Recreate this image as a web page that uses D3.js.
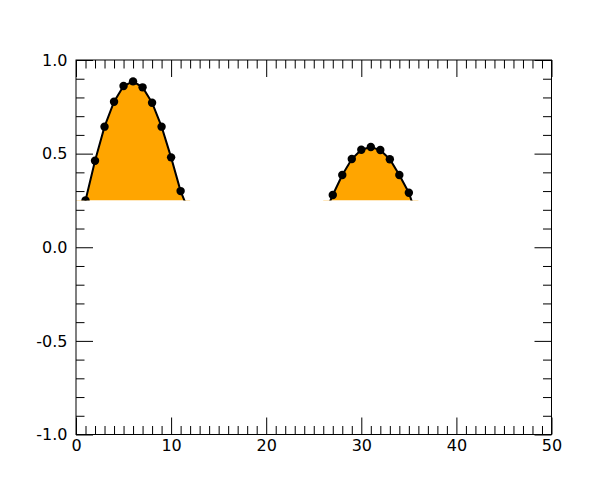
<!DOCTYPE html>
<html>
<head>
<meta charset="utf-8">
<script src="https://cdn.jsdelivr.net/npm/d3@7"></script>
<style>
  body { margin: 0; background: #fff; }
  text { font-family: "DejaVu Sans", sans-serif; }
</style>
</head>
<body>
<div id="chart-area"></div>
<script>
// data, two humps (values below 0.25 are clipped away)
let hump1X = [0, 1, 2, 3, 4, 5, 6, 7, 8, 9, 10, 11, 12];
let hump1Y = [0.0, 0.25, 0.462, 0.644, 0.777, 0.861, 0.886, 0.854, 0.772, 0.644, 0.48, 0.30, 0.175];
let hump2X = [26, 27, 28, 29, 30, 31, 32, 33, 34, 35, 36];
let hump2Y = [0.16, 0.279, 0.386, 0.471, 0.521, 0.535, 0.519, 0.47, 0.386, 0.291, 0.14];
let clipLevel = 0.25;

let xMajor = [0, 10, 20, 30, 40, 50];
let yMajor = [-1.0, -0.5, 0.0, 0.5, 1.0];

let margin = { left: 76, right: 48.5, top: 60, bottom: 65.5 };
let width = 600 - margin.left - margin.right;
let height = 500 - margin.top - margin.bottom;

let svg = d3.select('#chart-area').append('svg')
	.attr('width', 600)
	.attr('height', 500);

let g = svg.append('g')
	.attr('transform', 'translate(' + margin.left + ', ' + margin.top + ')');

let x = d3.scaleLinear().domain([0, 50]).range([0, width]);
let y = d3.scaleLinear().domain([-1, 1]).range([height, 0]);

// clip everything below the 0.25 level
svg.append('defs').append('clipPath')
	.attr('id', 'clip')
	.append('rect')
		.attr('x', 0)
		.attr('y', 0)
		.attr('width', width)
		.attr('height', y(clipLevel));

let segments = [
	hump1X.map((d, i) => ({ x: d, y: hump1Y[i] })),
	hump2X.map((d, i) => ({ x: d, y: hump2Y[i] }))
];

let plot = g.append('g').attr('clip-path', 'url(#clip)');

let area = d3.area()
	.x(d => x(d.x))
	.y0(y(clipLevel))
	.y1(d => y(d.y));

let line = d3.line()
	.x(d => x(d.x))
	.y(d => y(d.y));

segments.forEach(seg => {
	plot.append('path')
		.datum(seg)
		.attr('d', area)
		.attr('fill', 'orange');
	plot.append('path')
		.datum(seg)
		.attr('d', line)
		.attr('fill', 'none')
		.attr('stroke', 'black')
		.attr('stroke-width', 2);
	plot.selectAll(null)
		.data(seg)
		.enter()
		.append('circle')
			.attr('cx', d => x(d.x))
			.attr('cy', d => y(d.y))
			.attr('r', 4.2)
			.attr('fill', 'black');
});

// axes, ticks pointing inward on all four sides
let major = 17, minor = 8.5;
let xMinor = d3.range(0, 51, 1).filter(d => d % 10 !== 0);
let yMinor = d3.range(-10, 11, 1).map(d => d / 10).filter(d => Math.abs(d * 2 - Math.round(d * 2)) > 1e-6);

function styleAxis(sel) {
	sel.select('.domain').remove();
	sel.selectAll('line').attr('stroke', '#000').attr('stroke-width', 1);
	sel.selectAll('text')
		.attr('fill', '#000')
		.style('font-size', '16px')
		.style('font-family', '"DejaVu Sans", sans-serif');
}

g.append('g').attr('transform', 'translate(0,' + height + ')')
	.call(d3.axisBottom(x).tickValues(xMajor).tickSizeInner(-major).tickSizeOuter(0).tickPadding(5.5).tickFormat(d3.format('d')))
	.call(styleAxis);
g.append('g').attr('transform', 'translate(0,' + height + ')')
	.call(d3.axisBottom(x).tickValues(xMinor).tickSize(-minor).tickFormat(''))
	.call(styleAxis);
g.append('g')
	.call(d3.axisTop(x).tickValues(xMajor).tickSize(-major).tickFormat(''))
	.call(styleAxis);
g.append('g')
	.call(d3.axisTop(x).tickValues(xMinor).tickSize(-minor).tickFormat(''))
	.call(styleAxis);

g.append('g')
	.call(d3.axisLeft(y).tickValues(yMajor).tickSizeInner(-major).tickSizeOuter(0).tickPadding(8.5).tickFormat(d => d.toFixed(1)))
	.call(styleAxis);
g.append('g')
	.call(d3.axisLeft(y).tickValues(yMinor).tickSize(-minor).tickFormat(''))
	.call(styleAxis);
g.append('g').attr('transform', 'translate(' + width + ',0)')
	.call(d3.axisRight(y).tickValues(yMajor).tickSize(-major).tickFormat(''))
	.call(styleAxis);
g.append('g').attr('transform', 'translate(' + width + ',0)')
	.call(d3.axisRight(y).tickValues(yMinor).tickSize(-minor).tickFormat(''))
	.call(styleAxis);

// frame
g.append('rect')
	.attr('width', width)
	.attr('height', height)
	.attr('fill', 'none')
	.attr('stroke', '#000')
	.attr('stroke-width', 1);
</script>
</body>
</html>
